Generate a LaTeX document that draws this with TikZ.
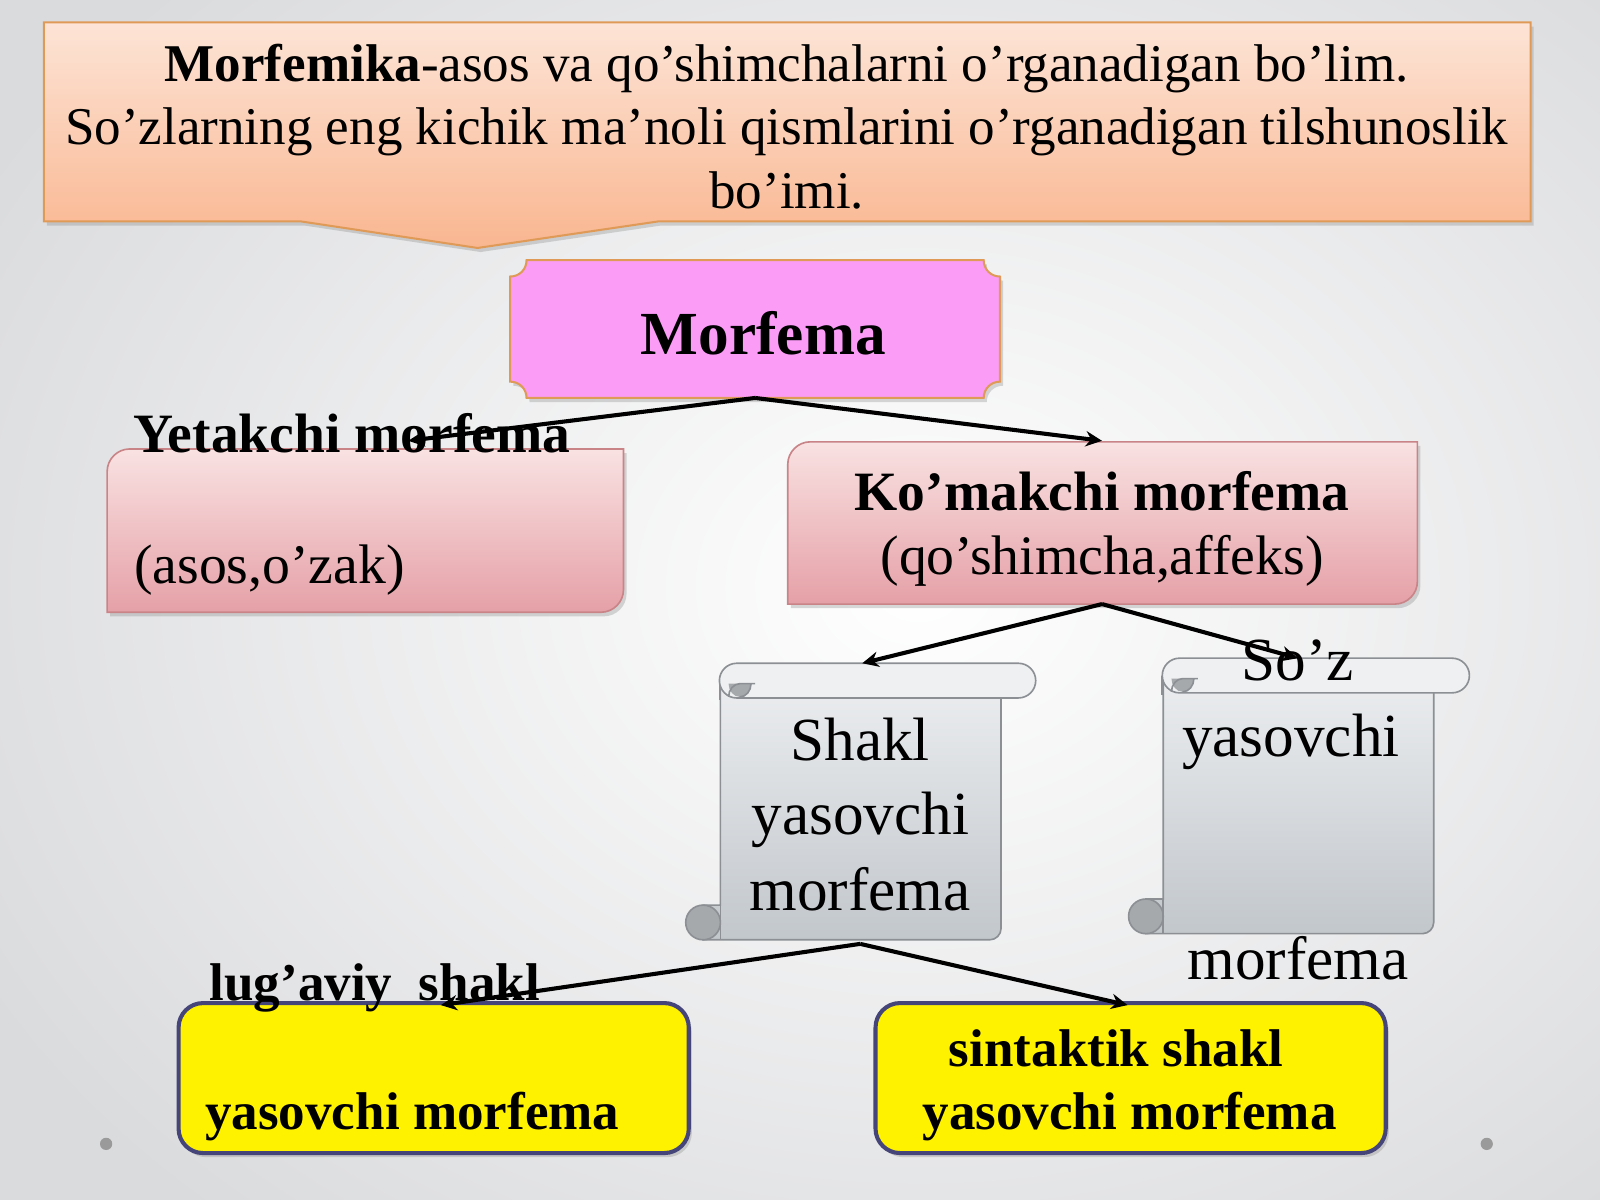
\documentclass[tikz,border=0pt]{standalone}
\usepackage{fontspec}
\setmainfont{Liberation Serif}
\usetikzlibrary{arrows.meta,shadows}
\definecolor{bgedge}{HTML}{DADBDD}
\definecolor{peachtop}{HTML}{FDE4D6}
\definecolor{peachbot}{HTML}{F9B690}
\definecolor{peachline}{HTML}{E09A58}
\definecolor{pinkfill}{HTML}{FB9CF7}
\definecolor{rosetop}{HTML}{F9E2E2}
\definecolor{rosebot}{HTML}{E5A0A7}
\definecolor{roseline}{HTML}{C98488}
\definecolor{scrolltop}{HTML}{EBEDEF}
\definecolor{scrollbot}{HTML}{C2C7CC}
\definecolor{rollfill}{HTML}{EEF0F1}
\definecolor{scrollline}{HTML}{8C9094}
\definecolor{curlgray}{HTML}{A6A9AC}
\definecolor{yelline}{HTML}{45457A}
\definecolor{dotgray}{HTML}{9A9A9A}
\tikzset{
  shadowed/.style={drop shadow={shadow xshift=1.5pt,shadow yshift=-2pt,opacity=0.3}},
  topbox/.style={top color=peachtop,bottom color=peachbot,draw=peachline,line width=1pt,shadowed},
  plaque/.style={fill=pinkfill,draw=peachline,line width=1pt,shadowed},
  rosebox/.style={top color=rosetop,bottom color=rosebot,draw=roseline,line width=0.8pt,shadowed},
  scrollbody/.style={top color=scrolltop,bottom color=scrollbot,draw=scrollline,line width=0.8pt},
  scrollroll/.style={fill=rollfill,draw=scrollline,line width=0.8pt},
  curl/.style={fill=curlgray,draw=scrollline,line width=0.8pt},
  scrolledge/.style={draw=scrollline,line width=0.8pt},
  yelbox/.style={fill=yellow,draw=yelline,line width=2pt,rounded corners=12pt,shadowed},
  arr/.style={line width=2pt,-{Stealth[length=8pt,width=7.5pt]}},
  big/.style={font=\fontsize{26}{31}\selectfont,anchor=base,inner sep=0pt},
  bigb/.style={font=\bfseries\fontsize{26}{31}\selectfont,anchor=base,inner sep=0pt},
  midr/.style={font=\fontsize{27.3}{33}\selectfont,anchor=base,inner sep=0pt},
  midb/.style={font=\bfseries\fontsize{27.2}{33}\selectfont,anchor=base,inner sep=0pt},
  huge/.style={font=\fontsize{30}{36}\selectfont,anchor=base,inner sep=0pt},
  hugeb/.style={font=\bfseries\fontsize{30}{36}\selectfont,anchor=base,inner sep=0pt},
}
\begin{document}
\begin{tikzpicture}[x=0.5pt,y=-0.5pt]
\useasboundingbox (0,0) rectangle (1568,1176);
\shade[inner color=white,outer color=bgedge] (-150,-250) rectangle (1950,1400);
% top callout
\path[topbox] (43,22) -- (1500,22) -- (1500,217) -- (645,217) -- (468,243) -- (295,217) -- (43,217) -- cycle;
\node[big] (t1) at (771,80) {\textbf{Morfemika}-asos va qo’shimchalarni o’rganadigan bo’lim.};
\node[big] (t2) at (771,142) {So’zlarning eng kichik ma’noli qismlarini o’rganadigan tilshunoslik};
\node[big] (t3) at (771,204) {bo’imi.};
% Morfema plaque
\path[plaque] (516,255) -- (964,255) .. controls (964,264) and (971,271) .. (980,271) -- (980,374) .. controls (971,374) and (964,381) .. (964,390) -- (516,390) .. controls (516,381) and (509,374) .. (500,374) -- (500,271) .. controls (509,271) and (516,264) .. (516,255) -- cycle;
\node[hugeb] (morf) at (748,347) {Morfema};
% Yetakchi box
\path[rosebox] (105,462) .. controls (105,450) and (115,440) .. (127,440) -- (611,440) -- (611,578) .. controls (611,590) and (601,600) .. (589,600) -- (105,600) -- cycle;
\node[midr,anchor=base west] (asos) at (131,572) {(asos,o’zak)};
\node[midb] (yet) at (345,443) {Yetakchi morfema};
% Ko'makchi box
\path[rosebox] (772,455) .. controls (772,443) and (782,433) .. (794,433) -- (1389,433) -- (1389,570) .. controls (1389,582) and (1379,592) .. (1367,592) -- (772,592) -- cycle;
\node[midb] (kom) at (1080,500) {Ko’makchi morfema};
\node[midr] (qos) at (1080,563) {(qo’shimcha,affeks)};
% left scroll
\path[scrollbody] (706,668) -- (981,668) -- (981,910) .. controls (981,916) and (976,921) .. (970,921) -- (689,921) -- (689,887) -- (706,887) -- cycle;
\draw[curl] (689,904) circle (17);
\draw[scrolledge] (706,887) -- (706,921);
\draw[scrollroll,rounded corners=8.5pt] (705,650) rectangle (1015,684);
\fill[curlgray] (714,670) -- (736,670) .. controls (736,677) and (731,683) .. (725,683) .. controls (719,683) and (714,677) .. (714,670) -- cycle;
\draw[scrolledge] (740,670) -- (725,670) .. controls (719,670) and (714,676) .. (714,683);
\draw[scrolledge] (736,670) .. controls (736,677) and (731,683) .. (725,683);
\draw[scrolledge] (705,667) -- (705,686);
\node[huge] (sh1) at (843,745) {Shakl};
\node[huge] (sh2) at (843,818) {yasovchi};
\node[huge] (sh3) at (843,892) {morfema};
% right scroll
\path[scrollbody] (1140,663) -- (1405,663) -- (1405,904) .. controls (1405,910) and (1400,915) .. (1394,915) -- (1123,915) -- (1123,881) -- (1140,881) -- cycle;
\draw[curl] (1123,898) circle (17);
\draw[scrolledge] (1140,881) -- (1140,915);
\draw[scrollroll,rounded corners=8.5pt] (1139,645) rectangle (1440,679);
\fill[curlgray] (1148,665) -- (1170,665) .. controls (1170,672) and (1165,678) .. (1159,678) .. controls (1153,678) and (1148,672) .. (1148,665) -- cycle;
\draw[scrolledge] (1174,665) -- (1159,665) .. controls (1153,665) and (1148,671) .. (1148,678);
\draw[scrolledge] (1170,665) .. controls (1170,672) and (1165,678) .. (1159,678);
\draw[scrolledge] (1139,662) -- (1139,681);
\node[huge] (sz1) at (1272,667) {So’z};
\node[huge] (sz2) at (1265,741) {yasovchi};
\node[huge] (sz3) at (1272,960) {morfema};
% yellow boxes
\path[yelbox] (175,983) rectangle (675,1130);
\path[yelbox] (858,983) rectangle (1358,1130);
\node[bigb] (y1) at (404,1107) {yasovchi morfema};
\node[bigb] (s1) at (1094,1045) {sintaktik shakl};
\node[bigb] (s2) at (1107,1107) {yasovchi morfema};
\node[bigb,anchor=base west] (lug) at (205,980) {lug’aviy~ shakl};
% connector coordinates
\coordinate (mb) at (740,390);
\coordinate (yt) at (400,432);
\coordinate (kt) at (1080,432);
\coordinate (kb) at (1080,592);
\coordinate (st) at (845,650);
\coordinate (zt) at (1272,645);
\coordinate (sb) at (843,925);
\coordinate (lt) at (432,985);
\coordinate (rt) at (1105,985);
\draw[arr] (mb) -- (yt);
\draw[arr] (mb) -- (kt);
\draw[arr] (kb) -- (st);
\draw[arr] (kb) -- (zt);
\draw[arr] (sb) -- (lt);
\draw[arr] (sb) -- (rt);
% dots
\fill[dotgray] (104,1121) circle (6);
\fill[dotgray] (1457,1121) circle (6);
\end{tikzpicture}
\end{document}
